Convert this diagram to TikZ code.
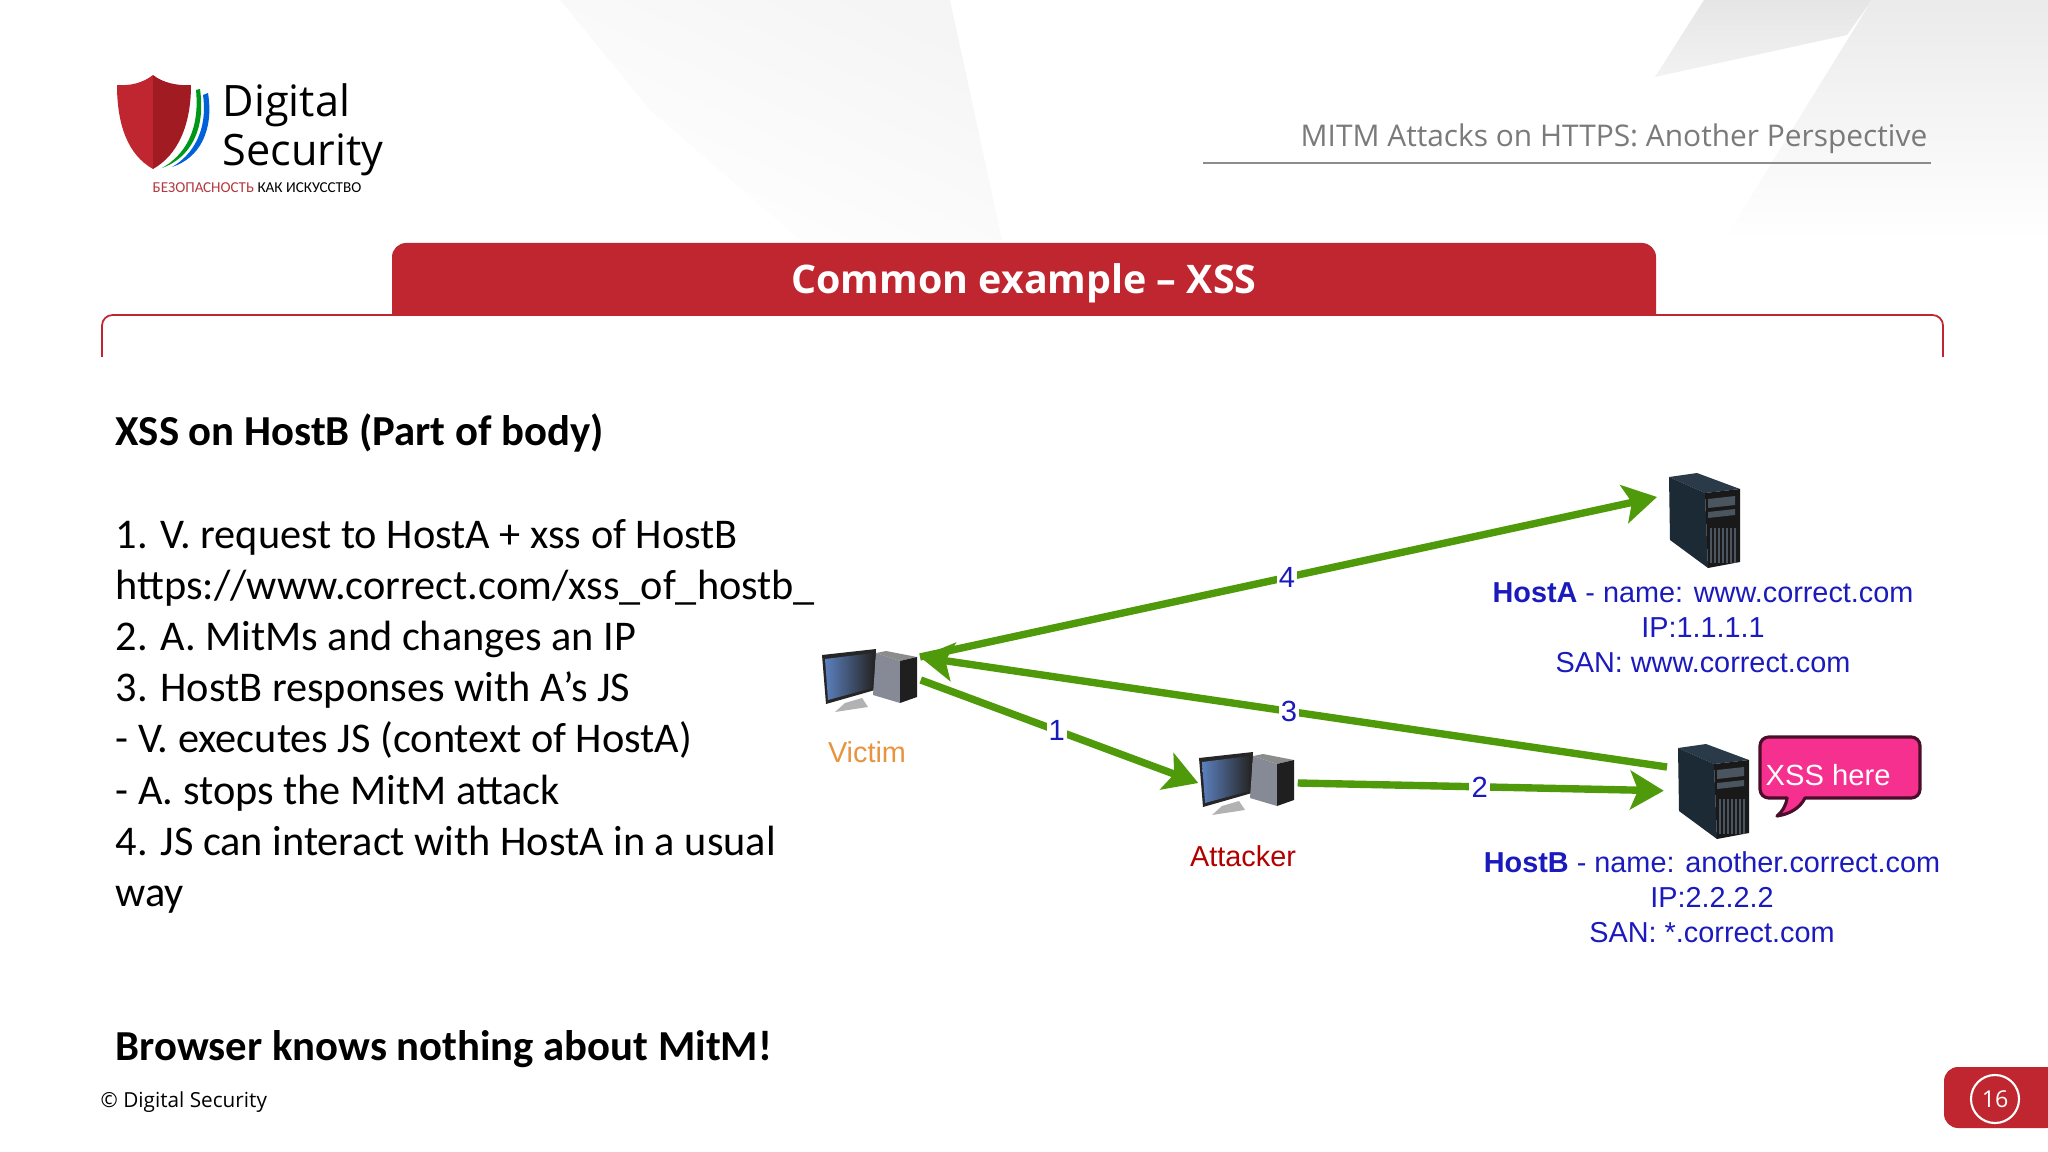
\documentclass[tikz,border=0pt]{standalone}
\usepackage{fontspec}
\usepackage{xcolor}
\usetikzlibrary{arrows.meta}
\setmainfont{Carlito}
\newfontfamily\slidefont{Open Sans}
\newfontfamily\arialfont{Liberation Sans}

\definecolor{slidered}{HTML}{C0262F}
\definecolor{shielddark}{HTML}{A01C22}
\definecolor{flowgreen}{HTML}{4F9A0A}
\definecolor{labelblue}{HTML}{1A1ABD}
\definecolor{bubblepink}{HTML}{F5308F}
\definecolor{screenblue}{HTML}{5B80BE}
\definecolor{towergray}{HTML}{858A96}
\definecolor{servertop}{HTML}{2B3A48}
\definecolor{serverside}{HTML}{1C2A36}
\definecolor{serverbay}{HTML}{4A5560}
\definecolor{victimorange}{HTML}{E8933F}

\tikzset{
	logotext/.style={anchor=base west, inner sep=0pt, font=\fontsize{12.3}{14}\selectfont\slidefont},
	bodytext/.style={anchor=base west, inner sep=0pt, font=\fontsize{12.03}{14.5}\selectfont},
	bodybold/.style={bodytext, font=\fontsize{12.15}{14.5}\selectfont\bfseries},
	hostinfo/.style={inner sep=0pt, text=labelblue, align=center, font=\fontsize{8.2}{10}\selectfont\arialfont},
	devname/.style={inner sep=0pt, font=\fontsize{8.2}{10}\selectfont\arialfont},
	flow/.style={line width=2.1pt, flowgreen, -{Stealth[length=9.5pt, width=11pt, inset=2.2pt]}},
	flownum/.style={fill=white, inner sep=0.6pt, text=labelblue, font=\fontsize{8.3}{10}\selectfont\arialfont},
	devbox/.style={inner sep=0pt, minimum width=#1}
}

% Desktop computer, drawn where the victim sits; shifted for the others
\newcommand{\desktop}[2]{
	\begin{scope}[shift={(#1,#2)}]
		\fill[black!85] (822,655) -- (876,649) -- (875,690) -- (826,704) -- cycle;
		\shade[left color=screenblue, right color=black!85] (825,659) -- (873,653) -- (872,688) -- (828,700) -- cycle;
		\fill[black!30] (835,712) -- (868,707) -- (862,698) -- (845,703) -- cycle;
		\fill[towergray] (876,653) -- (900,661) -- (900,703) -- (873,695) -- cycle;
		\fill[black!45] (876,653) -- (886,651) -- (917,657) -- (900,661) -- cycle;
		\fill[black!88] (900,661) -- (917,657) -- (917,697) -- (900,703) -- cycle;
	\end{scope}
}

% Tower server, drawn where HostA sits
\newcommand{\towerserver}[2]{
	\begin{scope}[shift={(#1,#2)}]
		\fill[servertop] (1669,477) -- (1697,473) -- (1740,489) -- (1705,493) -- cycle;
		\fill[serverside] (1669,477) -- (1705,493) -- (1708,568) -- (1670,540) -- cycle;
		\fill[black!90] (1705,493) -- (1740,489) -- (1740,562) -- (1708,568) -- cycle;
		\fill[serverbay] (1708,499) -- (1735,496) -- (1735,505) -- (1708,508) -- cycle;
		\fill[serverbay] (1708,512) -- (1735,509) -- (1735,515) -- (1708,518) -- cycle;
		\foreach \x in {1711,1715,...,1735} {
			\draw[serverbay, line width=0.3pt] (\x,528) -- (\x,563);
		}
	\end{scope}
}

\begin{document}
\begin{tikzpicture}[x=0.01cm, y=-0.01cm]
	\useasboundingbox (0,0) rectangle (2048,1152);

	% Background wedges
	\shade[top color=black!4, bottom color=white, shading angle=-25] (560,0) -- (950,0) -- (1002,240) -- (800,240) -- (650,110) -- cycle;
	\shade[top color=black!10, bottom color=black!5] (1704,0) -- (1872,0) -- (1847,35) -- (1655,77) -- cycle;
	\shade[top color=black!8, bottom color=white] (1872,0) -- (2048,0) -- (2048,240) -- (1724,240) -- cycle;

	% Logo
	\fill[slidered] (153,75) .. controls (143,83) and (130,86) .. (117,85) .. controls (117,125) and (128,155) .. (153,169) -- cycle;
	\fill[shielddark] (153,75) .. controls (163,83) and (178,86) .. (191,85) .. controls (191,125) and (178,155) .. (153,169) -- cycle;
	\fill[green!55!black!90!cyan] (196,90) -- (200,89) .. controls (206,130) and (190,158) .. (162,168) .. controls (185,155) and (200,130) .. (196,90) -- cycle;
	\fill[blue!55!cyan!85!black] (203,95) -- (208,93) .. controls (214,130) and (200,158) .. (172,167) .. controls (193,155) and (208,130) .. (203,95) -- cycle;
	\node[logotext] (logoTop) at (222,117) {Digital};
	\node[logotext] (logoBottom) at (222,166) {Security};
	\node[anchor=base west, inner sep=0pt, font=\fontsize{4.3}{6}\selectfont] (logoMotto) at (152,193) {\textcolor{slidered!80!gray}{БЕЗОПАСНОСТЬ} КАК ИСКУССТВО};

	% Header
	\node[anchor=base east, inner sep=0pt, text=black!52, font=\fontsize{8.5}{10}\selectfont\slidefont] (deckTitle) at (1928,147) {MITM Attacks on HTTPS: Another Perspective};
	\draw[black!45, line width=0.5pt] (1203,163) -- (1931,163);

	% Title tab and bracket
	\draw[slidered, line width=0.5pt, rounded corners=3pt] (102,357) -- (102,315) -- (1943,315) -- (1943,357);
	\fill[slidered] (392,316) [rounded corners=4pt] -- (392,243) -- (1656,243) [sharp corners] -- (1656,316) -- cycle;
	\node[text=white, inner sep=0pt, font=\fontsize{11.2}{13}\selectfont\slidefont\bfseries] (slideTitle) at (1024,283) {Common example – XSS};

	% Text column
	\node[bodybold] (heading) at (115,446) {XSS on HostB (Part of body)};
	\foreach \line [count=\i from 0] in {
		1. V. request to HostA + xss of HostB,
		https://www.correct.com/xss\_of\_hostb\_,
		2. A. MitMs and changes an IP,
		3. HostB responses with A’s JS,
		- V. executes JS (context of HostA),
		- A. stops the MitM attack,
		4. JS can interact with HostA in a usual,
		way} {
		\node[bodytext] (step\i) at (115,548+51.2*\i) {\line};
	}
	\node[bodybold] (verdict) at (115,1060) {Browser knows nothing about MitM!};

	% Footer
	\node[anchor=base west, inner sep=0pt, font=\fontsize{5.9}{7}\selectfont\slidefont] (copyright) at (100,1107) {© Digital Security};
	\fill[slidered, rounded corners=4pt] (2060,1067) -- (1944,1067) -- (1944,1128) -- (2060,1128) -- cycle;
	\node[circle, draw=white, line width=0.6pt, minimum size=0.48cm, inner sep=0pt, text=white, font=\fontsize{6.6}{8}\selectfont\slidefont] (pageNum) at (1995,1099) {16};

	% Machines
	\desktop{0}{0}
	\desktop{377}{103}
	\towerserver{0}{0}
	\towerserver{9}{271}
	\node[devbox=0.98cm, minimum height=0.63cm] (pcVictim) at (871,680) {};
	\node[devbox=0.98cm, minimum height=0.63cm] (pcAttacker) at (1248,783) {};
	\node[devbox=0.71cm, minimum height=0.95cm] (srvA) at (1704,520) {};
	\node[devbox=0.71cm, minimum height=0.95cm] (srvB) at (1713,791) {};
	\coordinate (victimPort) at (920,657);
	\coordinate (hostAPort) at (1657,497);
	\coordinate (hostBPort) at (1667,767);

	% Flows
	\draw[flow] (pcVictim.east) -- (pcAttacker.west) node[flownum, pos=0.49] (num1) {1};
	\draw[flow, shorten >=3.7pt] (pcAttacker.east) -- (srvB.west) node[flownum, pos=0.48] (num2) {2};
	\draw[flow] (hostBPort) -- (victimPort) node[flownum, pos=0.506] (num3) {3};
	\draw[flow] (victimPort) -- (hostAPort) node[flownum, pos=0.498] (num4) {4};

	% Labels
	\node[devname, text=victimorange] (nameVictim) at (867,752) {Victim};
	\node[devname, text=red!70!black] (nameAttacker) at (1243,856) {Attacker};
	\node[hostinfo] (infoA) at (1703,628) {\textbf{HostA} - name: www.correct.com\\IP:1.1.1.1\\SAN: www.correct.com};
	\node[hostinfo] (infoB) at (1712,897) {\textbf{HostB} - name: another.correct.com\\IP:2.2.2.2\\SAN: *.correct.com};

	% Speech bubble
	\draw[fill=bubblepink, draw=black!70!bubblepink, line width=0.9pt, line join=round]
		(1787,798) .. controls (1786,806) and (1782,812) .. (1777,816) .. controls (1790,814) and (1800,808) .. (1805,798)
		[rounded corners=2.5pt] -- (1920,798) -- (1920,737) -- (1760,737) -- (1760,798) [sharp corners] -- cycle;
	\node[anchor=west, inner sep=0pt, text=white, font=\fontsize{8.3}{10}\selectfont\arialfont] (bubbleText) at (1765,775) {XSS here};
\end{tikzpicture}
\end{document}
